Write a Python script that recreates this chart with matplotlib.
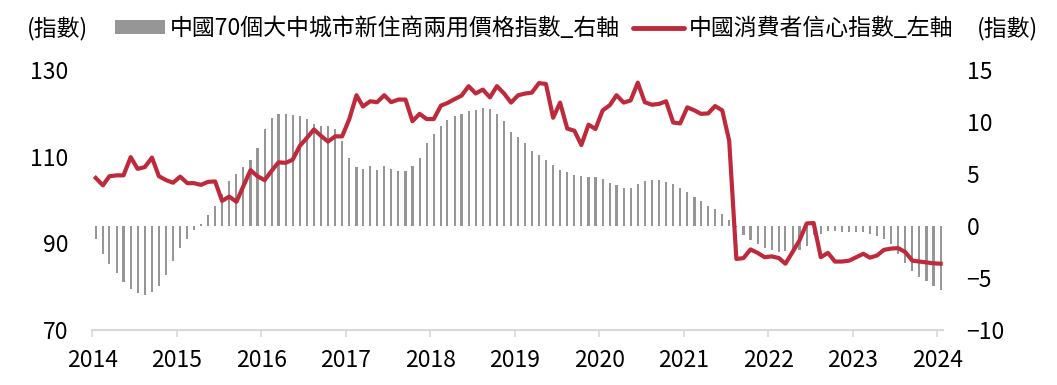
import matplotlib
matplotlib.use("Agg")
import matplotlib.pyplot as plt
import matplotlib.dates as mdates
from matplotlib.patches import Patch
from matplotlib.lines import Line2D
import pandas as pd

plt.rcParams['font.family'] = ['Noto Sans CJK TC', 'DejaVu Sans']

# monthly, Jan 2014 - Jan 2024
months = pd.date_range('2014-01-01', periods=121, freq='MS')

# 中國70個大中城市新住商兩用價格指數 (right axis)
house_price = [
    -1.2, -2.7, -3.7, -4.5, -5.35, -6.05, -6.4, -6.6, -6.3, -5.75, -4.7, -3.35,
    -2.1, -1.2, -0.35, 0.15, 1.05, 1.9, 3.1, 4.3, 5.05, 5.7, 6.35, 7.5,
    9.3, 10.35, 10.75, 10.8, 10.7, 10.6, 10.25, 9.85, 9.6, 9.6, 9.3, 8.2,
    6.55, 5.7, 5.45, 5.75, 5.4, 5.75, 5.5, 5.3, 5.3, 5.75, 6.55, 8.0,
    8.9, 9.6, 10.2, 10.6, 10.75, 11.05, 11.2, 11.35, 11.25, 10.75, 10.1, 9.05,
    8.55, 8.0, 7.2, 6.8, 6.4, 5.85, 5.4, 5.2, 4.9, 4.8, 4.7, 4.7,
    4.5, 4.15, 3.95, 3.65, 3.65, 4.0, 4.3, 4.4, 4.4, 4.2, 4.05, 3.65,
    3.25, 2.8, 2.4, 1.9, 1.65, 1.15, 0.6, -0.1, -0.85, -1.35, -1.75, -2.1,
    -2.3, -2.45, -2.4, -2.3, -2.3, -1.9, -0.9, -0.75, -0.5, -0.5, -0.6, -0.6,
    -0.6, -0.6, -0.75, -0.95, -1.2, -1.75, -2.65, -3.55, -4.35, -4.9, -5.3, -5.75,
    -6.15,
]

# 中國消費者信心指數 (left axis)
confidence = [
    105.1, 103.4, 105.5, 105.7, 105.7, 109.9, 107.2, 107.6, 109.8, 105.5, 104.6, 104.0,
    105.4, 103.9, 103.9, 103.5, 104.2, 104.3, 99.8, 100.8, 99.6, 103.2, 106.9, 105.5,
    104.6, 106.8, 108.7, 108.6, 109.3, 112.5, 114.3, 116.3, 114.8, 113.5, 114.7, 114.7,
    118.7, 124.2, 121.6, 122.8, 122.6, 124.2, 122.6, 123.2, 123.2, 118.2, 119.9, 118.7,
    118.7, 121.8, 122.4, 123.3, 124.1, 126.3, 124.6, 125.5, 123.7, 126.3, 124.6, 122.5,
    124.2, 124.6, 124.8, 127.0, 126.8, 119.0, 122.5, 116.5, 116.0, 112.7, 117.4, 116.4,
    120.7, 121.9, 124.2, 122.5, 123.0, 127.1, 122.6, 122.0, 122.2, 122.8, 117.9, 117.7,
    121.4, 120.7, 119.9, 120.0, 121.7, 120.7, 113.7, 86.4, 86.6, 88.6, 87.8, 86.8,
    87.0, 86.6, 85.3, 88.0, 90.7, 94.6, 94.7, 86.8, 87.8, 85.8, 85.8, 86.0,
    86.8, 87.6, 86.7, 87.2, 88.5, 88.8, 88.9, 88.0, 86.0, 85.8, 85.6, 85.4,
    85.3,
]

bar_label = '中國70個大中城市新住商兩用價格指數_右軸'
line_label = '中國消費者信心指數_左軸'
red = '#BE2A3C'
gray = '#969696'
fs = 16.5

fig = plt.figure(figsize=(10.57, 3.85), dpi=100)
ax = fig.add_axes([0.0873, 0.1429, 0.8048, 0.675])
ax2 = ax.twinx()

x = months + pd.Timedelta(days=15)
ax2.bar(x, house_price, width=9, color=gray, zorder=1)
ax.plot(x, confidence, color=red, lw=3.0, solid_joinstyle='round', zorder=3)

# line above bars
ax.set_zorder(ax2.get_zorder() + 1)
ax.patch.set_visible(False)

ax.set_ylim(70, 130)
ax.set_yticks([70, 90, 110, 130])
ax2.set_ylim(-10, 15)
ax2.set_yticks([-10, -5, 0, 5, 10, 15])

ax.set_xlim(pd.Timestamp('2014-01-01'), pd.Timestamp('2024-01-26'))
years = pd.date_range('2014-01-01', '2024-01-01', freq='YS')
ax.set_xticks(years)
ax.xaxis.set_major_formatter(mdates.DateFormatter('%Y'))

for a in (ax, ax2):
    for s in ('top', 'left', 'right', 'bottom'):
        a.spines[s].set_visible(False)
ax.spines['bottom'].set_visible(True)
ax.spines['bottom'].set_color('#D9D9D9')
ax.spines['bottom'].set_linewidth(1.5)

ax.tick_params(axis='x', direction='out', length=5, width=1.2, color='#D9D9D9',
               labelsize=fs, pad=9)
ax.tick_params(axis='y', length=0, labelsize=fs, pad=17)
ax2.tick_params(axis='y', length=0, labelsize=fs, pad=17)

handles = [Patch(facecolor=gray, edgecolor='none'),
           Line2D([0], [0], color=red, lw=3.5, solid_capstyle='round')]
fig.legend(handles, [bar_label, line_label], ncol=2, frameon=False,
           loc='center', bbox_to_anchor=(0.505, 0.925), fontsize=fs,
           handlelength=2.2, handleheight=0.55, handletextpad=0.2,
           columnspacing=0.6, borderaxespad=0)
fig.text(0.054, 0.925, '(指數)', ha='center', va='center', fontsize=fs)
fig.text(0.953, 0.925, '(指數)', ha='center', va='center', fontsize=fs)

fig.savefig('out.png', dpi=100)
